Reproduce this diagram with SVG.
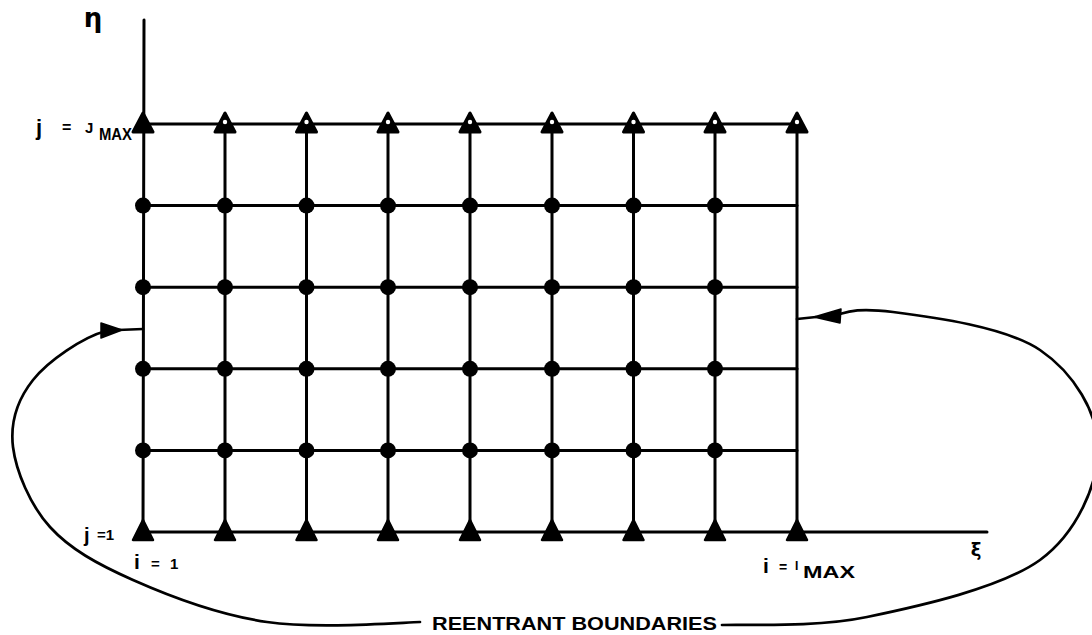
<svg xmlns="http://www.w3.org/2000/svg" xmlns:xlink="http://www.w3.org/1999/xlink" width="1092" height="635" viewBox="0 0 1092 635">
<style>
.g{stroke:#000;stroke-width:3;fill:none;stroke-linecap:round}
.c{stroke:#000;stroke-width:2.7;fill:none;stroke-linecap:round}
.t{font-family:"Liberation Sans",Arial,sans-serif;font-weight:bold;fill:#000}
.s{font-family:"DejaVu Sans",sans-serif;font-weight:bold;fill:#000}
</style>
<defs>
<g id="dot"><circle r="8" fill="#000"/></g>
<g id="triT"><path d="M0,-11 L-10,8 L10,8 Z" fill="#000" stroke="#000" stroke-width="3" stroke-linejoin="round"/><circle cx="0" cy="-2" r="2.2" fill="#fff"/></g>
<g id="triF"><path d="M0,-11 L-10,8 L10,8 Z" fill="#000" stroke="#000" stroke-width="3" stroke-linejoin="round"/></g>
<g id="triB"><path d="M0,-12 L-10,8 L10,8 Z" fill="#000" stroke="#000" stroke-width="2.5" stroke-linejoin="round"/></g>
</defs>
<rect width="1092" height="635" fill="#fff"/>

<g id="connectors">
  <!-- axes -->
  <path class="g" d="M144,20 L143,532 L987,532"/>
  <!-- horizontal grid lines -->
  <path class="g" d="M143,124 H797 M143,205.6 H797 M143,287.2 H797 M143,368.8 H797 M143,450.4 H797"/>
  <!-- vertical grid lines -->
  <path class="g" d="M225,124 V532 M306.5,124 V532 M388,124 V532 M470,124 V532 M552,124 V532 M633.5,124 V532 M715,124 V532 M797,124 V532"/>
  <!-- left reentrant curve -->
  <path class="c" d="M143,329 L118,330 M106,331 C83,337 48,361 33,380 C18,399 10,422 13,447 C16,471 30,505 50,527 C70,549 97,564 133,580 C169,596 219,615 267,622 C315,629 394,623 420,622"/>
  <polygon points="101,323 122,330 101,338" fill="#000" stroke="#000" stroke-width="1.5" stroke-linejoin="round"/>
  <!-- right reentrant curve -->
  <path class="c" d="M797,319 L816,317 M836,315 C845,313 853,307 893,312 C933,317 1006,327 1040,350 C1074,373 1098,413 1098,448 C1098,483 1078,532 1040,560 C1001,588 920,606 867,617 C814,628 746,624 722,625"/>
  <polygon points="814,317 841,309 840,323" fill="#000" stroke="#000" stroke-width="1.5" stroke-linejoin="round"/>
</g>

<g id="nodes">
  <g id="n-1-jmax"><use xlink:href="#triF" x="143" y="124"/></g>
  <g id="n-2-jmax"><use xlink:href="#triT" x="225" y="124"/></g>
  <g id="n-3-jmax"><use xlink:href="#triT" x="306.5" y="124"/></g>
  <g id="n-4-jmax"><use xlink:href="#triT" x="388" y="124"/></g>
  <g id="n-5-jmax"><use xlink:href="#triT" x="470" y="124"/></g>
  <g id="n-6-jmax"><use xlink:href="#triT" x="552" y="124"/></g>
  <g id="n-7-jmax"><use xlink:href="#triT" x="633.5" y="124"/></g>
  <g id="n-8-jmax"><use xlink:href="#triT" x="715" y="124"/></g>
  <g id="n-imax-jmax"><use xlink:href="#triT" x="797" y="124"/></g>

  <g id="n-1-5"><use xlink:href="#dot" x="143" y="205.6"/></g>
  <g id="n-2-5"><use xlink:href="#dot" x="225" y="205.6"/></g>
  <g id="n-3-5"><use xlink:href="#dot" x="306.5" y="205.6"/></g>
  <g id="n-4-5"><use xlink:href="#dot" x="388" y="205.6"/></g>
  <g id="n-5-5"><use xlink:href="#dot" x="470" y="205.6"/></g>
  <g id="n-6-5"><use xlink:href="#dot" x="552" y="205.6"/></g>
  <g id="n-7-5"><use xlink:href="#dot" x="633.5" y="205.6"/></g>
  <g id="n-8-5"><use xlink:href="#dot" x="715" y="205.6"/></g>

  <g id="n-1-4"><use xlink:href="#dot" x="143" y="287.2"/></g>
  <g id="n-2-4"><use xlink:href="#dot" x="225" y="287.2"/></g>
  <g id="n-3-4"><use xlink:href="#dot" x="306.5" y="287.2"/></g>
  <g id="n-4-4"><use xlink:href="#dot" x="388" y="287.2"/></g>
  <g id="n-5-4"><use xlink:href="#dot" x="470" y="287.2"/></g>
  <g id="n-6-4"><use xlink:href="#dot" x="552" y="287.2"/></g>
  <g id="n-7-4"><use xlink:href="#dot" x="633.5" y="287.2"/></g>
  <g id="n-8-4"><use xlink:href="#dot" x="715" y="287.2"/></g>

  <g id="n-1-3"><use xlink:href="#dot" x="143" y="368.8"/></g>
  <g id="n-2-3"><use xlink:href="#dot" x="225" y="368.8"/></g>
  <g id="n-3-3"><use xlink:href="#dot" x="306.5" y="368.8"/></g>
  <g id="n-4-3"><use xlink:href="#dot" x="388" y="368.8"/></g>
  <g id="n-5-3"><use xlink:href="#dot" x="470" y="368.8"/></g>
  <g id="n-6-3"><use xlink:href="#dot" x="552" y="368.8"/></g>
  <g id="n-7-3"><use xlink:href="#dot" x="633.5" y="368.8"/></g>
  <g id="n-8-3"><use xlink:href="#dot" x="715" y="368.8"/></g>

  <g id="n-1-2"><use xlink:href="#dot" x="143" y="450.4"/></g>
  <g id="n-2-2"><use xlink:href="#dot" x="225" y="450.4"/></g>
  <g id="n-3-2"><use xlink:href="#dot" x="306.5" y="450.4"/></g>
  <g id="n-4-2"><use xlink:href="#dot" x="388" y="450.4"/></g>
  <g id="n-5-2"><use xlink:href="#dot" x="470" y="450.4"/></g>
  <g id="n-6-2"><use xlink:href="#dot" x="552" y="450.4"/></g>
  <g id="n-7-2"><use xlink:href="#dot" x="633.5" y="450.4"/></g>
  <g id="n-8-2"><use xlink:href="#dot" x="715" y="450.4"/></g>

  <g id="n-1-1"><use xlink:href="#triB" x="143" y="532"/></g>
  <g id="n-2-1"><use xlink:href="#triB" x="225" y="532"/></g>
  <g id="n-3-1"><use xlink:href="#triB" x="306.5" y="532"/></g>
  <g id="n-4-1"><use xlink:href="#triB" x="388" y="532"/></g>
  <g id="n-5-1"><use xlink:href="#triB" x="470" y="532"/></g>
  <g id="n-6-1"><use xlink:href="#triB" x="552" y="532"/></g>
  <g id="n-7-1"><use xlink:href="#triB" x="633.5" y="532"/></g>
  <g id="n-8-1"><use xlink:href="#triB" x="715" y="532"/></g>
  <g id="n-imax-1"><use xlink:href="#triB" x="797" y="532"/></g>
</g>

<g id="labels">
  <text class="s" x="93" y="27" font-size="26" text-anchor="middle">η</text>
  <text class="s" x="976" y="556" font-size="18" text-anchor="middle">ξ</text>
  <text class="t"><tspan x="36" y="135" font-size="22">j</tspan><tspan x="62" y="133" font-size="16">=</tspan><tspan x="85" y="133" font-size="15">J</tspan><tspan x="99" y="140" font-size="16" textLength="33" lengthAdjust="spacingAndGlyphs">MAX</tspan></text>
  <text class="t"><tspan x="84" y="542" font-size="20">j</tspan><tspan x="97" y="540" font-size="15">=1</tspan></text>
  <text class="t"><tspan x="134" y="569" font-size="21">i</tspan><tspan x="151" y="569" font-size="15">=</tspan><tspan x="170" y="569" font-size="15">1</tspan></text>
  <text class="t"><tspan x="763" y="573" font-size="21">i</tspan><tspan x="779" y="572" font-size="14">=</tspan><tspan x="795" y="570" font-size="12">I</tspan><tspan x="803" y="578" font-size="17" textLength="52" lengthAdjust="spacingAndGlyphs">MAX</tspan></text>
  <text class="t" x="432" y="630" font-size="19" textLength="285" lengthAdjust="spacingAndGlyphs">REENTRANT BOUNDARIES</text>
</g>
</svg>
